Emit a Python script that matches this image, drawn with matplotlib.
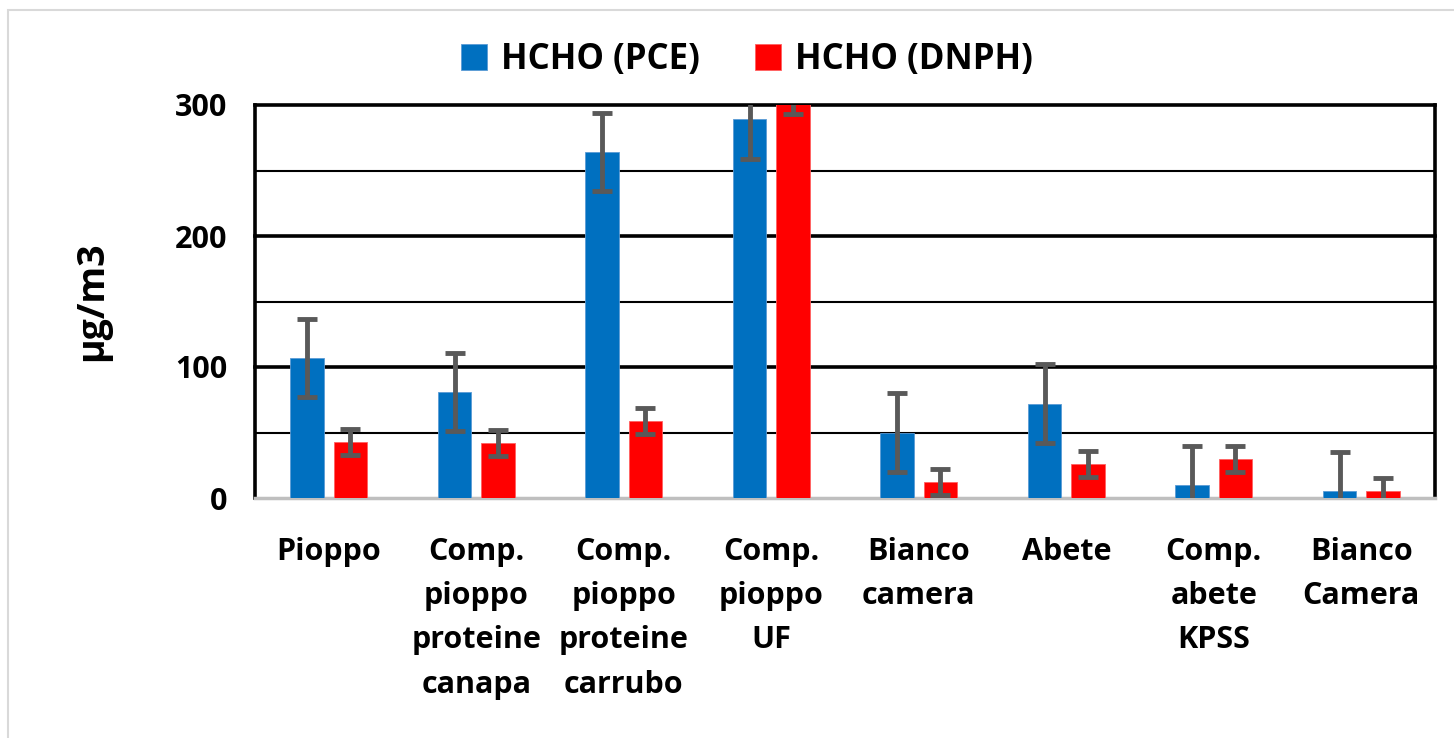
import numpy as np
import matplotlib.pyplot as plt
from matplotlib.patches import Rectangle

plt.rcParams['font.family'] = ['Open Sans', 'DejaVu Sans']
plt.rcParams['font.weight'] = 'bold'

categories = ["Pioppo", "Comp.\npioppo\nproteine\ncanapa", "Comp.\npioppo\nproteine\ncarrubo",
              "Comp.\npioppo\nUF", "Bianco\ncamera", "Abete", "Comp.\nabete\nKPSS", "Bianco\nCamera"]
pce = [107, 81, 264, 289, 50, 72, 10, 5]
pce_err = [30, 30, 30, 30, 30, 30, 30, 30]
dnph = [43, 42, 59, 303, 12, 26, 30, 5.5]
dnph_err = [10, 10, 10, 10, 10, 10, 10, 10]

fig = plt.figure(figsize=(14.54, 7.38), dpi=100)
ax = fig.add_axes([255 / 1454, 1 - 498 / 738, 1180 / 1454, 393 / 738])

x = np.arange(len(categories))
w = 0.225
off = 0.147
err_kw = dict(ecolor='#595959', elinewidth=3.5, capsize=7, capthick=3.5)
ax.bar(x - off, pce, w, yerr=pce_err, color='#0070C0', edgecolor='#5B9BD5', linewidth=0.6,
       error_kw=err_kw, label='HCHO (PCE)', zorder=3)
ax.bar(x + off, dnph, w, yerr=dnph_err, color='#FF0000', edgecolor='#FF6060', linewidth=0.6,
       error_kw=err_kw, label='HCHO (DNPH)', zorder=3)

ax.set_xlim(-0.5, len(categories) - 0.5)
ax.set_ylim(0, 300)
ax.set_yticks([0, 100, 200, 300])
for v in [50, 150, 250]:
    ax.axhline(v, color='black', lw=1.5, zorder=1)
for v in [100, 200, 300]:
    ax.axhline(v, color='black', lw=2.6, zorder=1, clip_on=False)

ax.set_xticks(x)
ax.set_xticklabels(categories, fontsize=22, fontweight='bold', linespacing=1.62)
ax.tick_params(axis='x', length=0, pad=28)
ax.tick_params(axis='y', length=0, pad=20, labelsize=22)
for lab in ax.get_yticklabels():
    lab.set_fontweight('bold')

for s in ['left', 'right']:
    ax.spines[s].set_color('black')
    ax.spines[s].set_linewidth(2.6)
ax.spines['top'].set_visible(False)
ax.spines['bottom'].set_color('#BFBFBF')
ax.spines['bottom'].set_linewidth(2.5)

ax.set_ylabel('\u00b5g/m3', fontsize=27, fontweight='bold', labelpad=46)

leg = fig.legend(loc='center', bbox_to_anchor=(747 / 1454, 1 - 60 / 738), ncol=2, frameon=False,
                 handlelength=0.75, handleheight=0.75, handletextpad=0.4,
                 columnspacing=1.6, prop={'weight': 'bold', 'size': 25})

# outer chart frame
fig.patches.append(Rectangle((8 / 1454, -0.1), 1.2, 1 - 10 / 738 + 0.1, transform=fig.transFigure,
                             fill=False, edgecolor='#D9D9D9', lw=1.5))

fig.savefig('out.png', dpi=100)
